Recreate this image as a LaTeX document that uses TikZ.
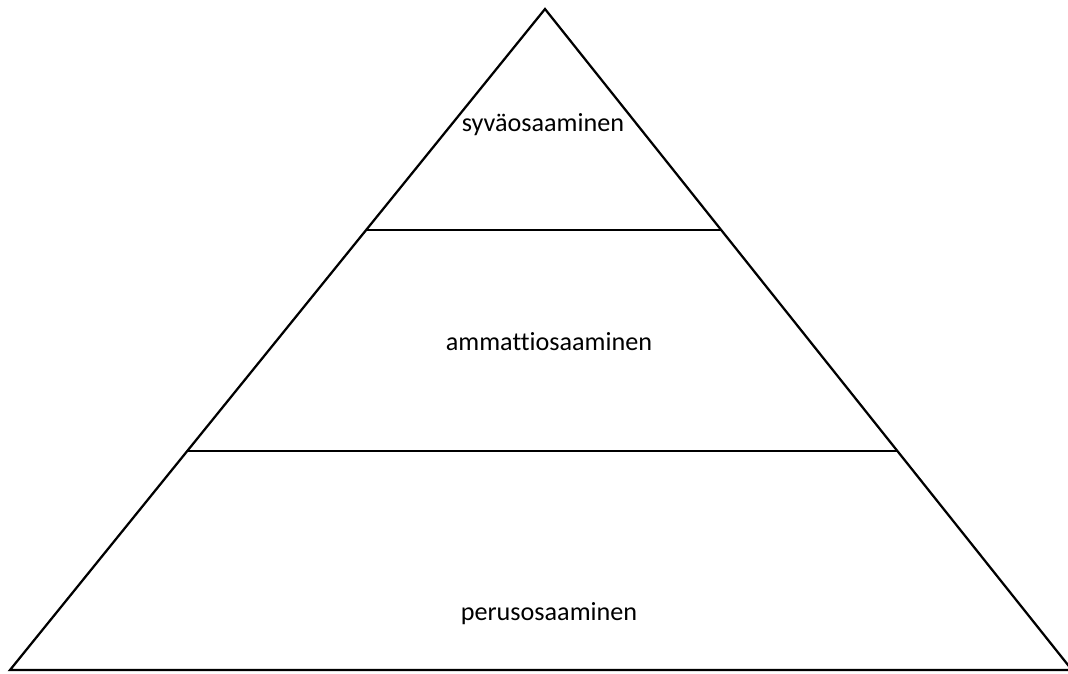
\documentclass[tikz,border=0pt]{standalone}
\usepackage{fontspec}
\setmainfont[Ligatures=NoCommon]{Carlito}
\usetikzlibrary{positioning}

\begin{document}
\begin{tikzpicture}[x=0.025cm, y=-0.025cm, line width=1.6pt]
	\tikzstyle{level} = [font=\fontsize{18.6}{22}\selectfont, inner sep=0pt];

	\useasboundingbox (0,0) rectangle (1068,673);

	\coordinate (top)   at (545,9);
	\coordinate (bl)    at (10,670);
	\coordinate (br)    at (1072,670);
	\coordinate (l_1)   at (366,230);
	\coordinate (r_1)   at (722,230);
	\coordinate (l_2)   at (188,451);
	\coordinate (r_2)   at (898,451);

	\node [level] (syva)   at (543,125) {syväosaaminen};
	\node [level] (ammatti) at (549,342) {ammattiosaaminen};
	\node [level] (perus)  at (549,614) {perusosaaminen};

	\draw [line join=miter] (bl) -- (top) -- (br) -- cycle;
	\draw (l_1) -- (r_1);
	\draw (l_2) -- (r_2);
\end{tikzpicture}
\end{document}
